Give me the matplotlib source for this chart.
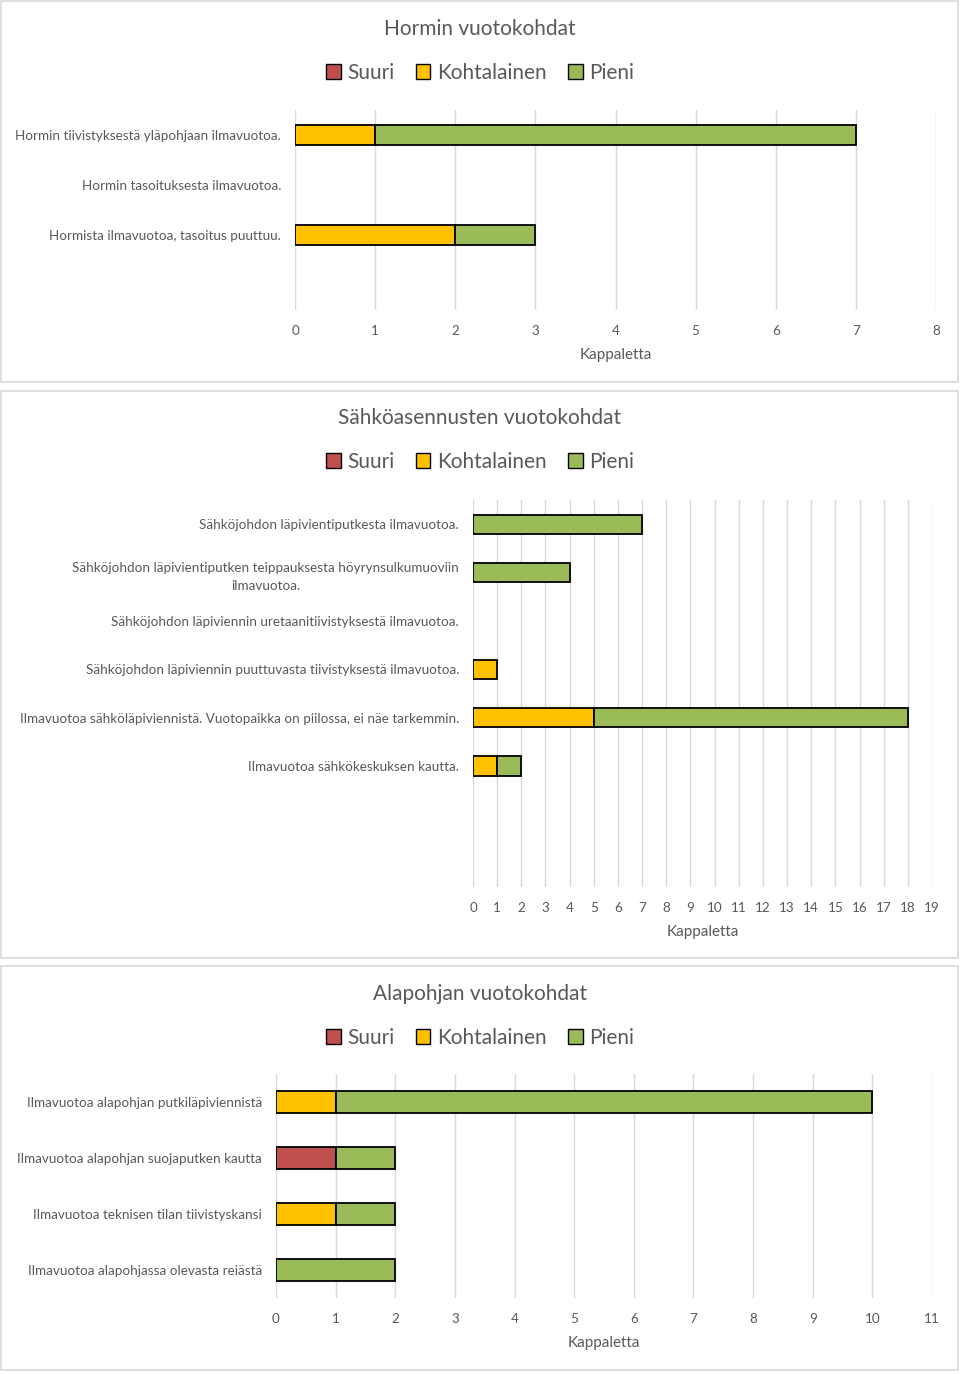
import numpy as np
import matplotlib.pyplot as plt
from matplotlib.patches import Rectangle, Patch

plt.rcParams['font.family'] = ['Lato', 'DejaVu Sans']

# Data
series = ["Suuri", "Kohtalainen", "Pieni"]
colors = ["#C0504D", "#FFC000", "#9BBB59"]

hormi_labels = ["Hormin tiivistyksestä yläpohjaan ilmavuotoa.",
                "Hormin tasoituksesta ilmavuotoa.",
                "Hormista ilmavuotoa, tasoitus puuttuu.",
                ""]
hormi_suuri = [0, 0, 0, 0]
hormi_kohtalainen = [1, 0, 2, 0]
hormi_pieni = [6, 0, 1, 0]

sahko_labels = ["Sähköjohdon läpivientiputkesta ilmavuotoa.",
                "Sähköjohdon läpivientiputken teippauksesta höyrynsulkumuoviin\nilmavuotoa.",
                "Sähköjohdon läpiviennin uretaanitiivistyksestä ilmavuotoa.",
                "Sähköjohdon läpiviennin puuttuvasta tiivistyksestä ilmavuotoa.",
                "Ilmavuotoa sähköläpiviennistä. Vuotopaikka on piilossa, ei näe tarkemmin.",
                "Ilmavuotoa sähkökeskuksen kautta.",
                "", ""]
sahko_suuri = [0, 0, 0, 0, 0, 0, 0, 0]
sahko_kohtalainen = [0, 0, 0, 1, 5, 1, 0, 0]
sahko_pieni = [7, 4, 0, 0, 13, 1, 0, 0]

ala_labels = ["Ilmavuotoa alapohjan putkiläpiviennistä",
              "Ilmavuotoa alapohjan suojaputken kautta",
              "Ilmavuotoa teknisen tilan tiivistyskansi",
              "Ilmavuotoa alapohjassa olevasta reiästä"]
ala_suuri = [0, 1, 0, 0]
ala_kohtalainen = [1, 0, 1, 0]
ala_pieni = [9, 1, 1, 2]

text_col = "#595959"
grid_col = "#D9D9D9"

W, H = 960, 1374
fig = plt.figure(figsize=(W / 100, H / 100), dpi=100)


def px(x0, y0, x1, y1):
    # pixel box -> figure fraction [left, bottom, width, height]
    return [x0 / W, 1 - y1 / H, (x1 - x0) / W, (y1 - y0) / H]


def panel(box, axbox, title, title_y, legend_y, labels, vals, xmax):
    x0, y0, x1, y1 = box
    fig.patches.append(Rectangle((x0 / W, 1 - y1 / H), (x1 - x0) / W, (y1 - y0) / H,
                                 transform=fig.transFigure, fill=False,
                                 edgecolor=grid_col, linewidth=1.2))
    fig.text(0.5, 1 - title_y / H, title, ha='center', va='center',
             fontsize=15, color=text_col)
    handles = [Patch(facecolor=c, edgecolor='black', linewidth=1.0) for c in colors]
    fig.legend(handles, series, loc='center', bbox_to_anchor=(0.5, 1 - legend_y / H),
               ncol=3, frameon=False, fontsize=15, handlelength=0.7, handleheight=0.7,
               handletextpad=0.3, columnspacing=1.05, labelcolor=text_col)

    ax = fig.add_axes(px(*axbox))
    y = np.arange(len(labels))
    left = np.zeros(len(labels))
    for v, c in zip(vals, colors):
        v = np.asarray(v, dtype=float)
        m = v > 0
        ax.barh(y[m], v[m], left=left[m], height=0.4, color=c,
                edgecolor='black', linewidth=1.3, zorder=3)
        left += v
    ax.set_ylim(len(labels) - 0.5, -0.5)
    ax.set_yticks(y)
    ax.set_yticklabels(labels, fontsize=9.7, color=text_col,
                       multialignment='center', linespacing=1.6)
    ax.set_xlim(0, xmax)
    ax.set_xticks(np.arange(0, xmax + 1))
    ax.tick_params(axis='both', length=0, labelsize=9.7, labelcolor=text_col)
    ax.tick_params(axis='x', pad=11)
    ax.tick_params(axis='y', pad=10)
    ax.set_xlabel("Kappaletta", fontsize=11, color=text_col, labelpad=8)
    ax.grid(axis='x', color=grid_col, linewidth=1)
    ax.set_axisbelow(True)
    for s in ax.spines.values():
        s.set_visible(False)
    return ax


panel((1, 1, 958, 382), (295, 110, 936, 310), "Hormin vuotokohdat", 29, 73,
      hormi_labels, [hormi_suuri, hormi_kohtalainen, hormi_pieni], 8)
panel((1, 391, 958, 958), (473, 500, 932, 887), "Sähköasennusten vuotokohdat", 418, 462,
      sahko_labels, [sahko_suuri, sahko_kohtalainen, sahko_pieni], 19)
panel((1, 966, 958, 1370), (276, 1074, 932, 1298), "Alapohjan vuotokohdat", 994, 1038,
      ala_labels, [ala_suuri, ala_kohtalainen, ala_pieni], 11)

fig.savefig("out.png", dpi=100)
